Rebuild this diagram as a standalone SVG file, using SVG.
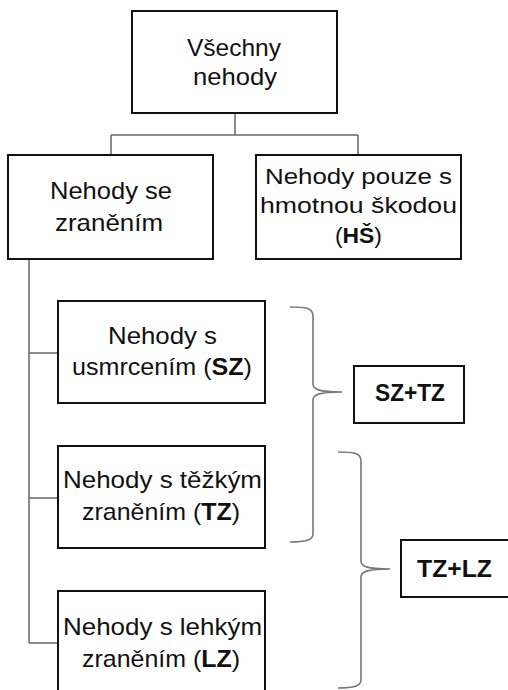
<svg xmlns="http://www.w3.org/2000/svg" width="508" height="690" viewBox="0 0 508 690">
<style>
.box{fill:#fff;stroke:#111;stroke-width:2}
.t{font-family:"Liberation Sans",Arial,sans-serif;font-size:24px;fill:#111}
.s{font-size:22px}
.b{font-weight:bold}
.con{fill:none;stroke:#666;stroke-width:1.5}
.brace{fill:none;stroke:#777;stroke-width:1.6}
</style>
<rect width="508" height="690" fill="#fff"/>
<g id="connectors">
<path class="con" d="M235,113V135M111,135H358M111,135V155M358,135V155"/>
<path class="con" d="M29,259V643M29,353H58M29,498H58M29,643H58"/>
<path class="brace" d="M290,307C306,307 313,308 313,316V384C313,389 318,392 342,392M313,400C313,395 318,392 342,392M313,400V534C313,540 306,542 290,542"/>
<path class="brace" d="M338,452C354,452 361,453 361,461V561C361,566 366,569 390,569M361,577C361,572 366,569 390,569M361,577V680C361,686 354,688 338,688"/>
</g>
<g id="n_all">
<rect class="box" x="132" y="11" width="205" height="102"/>
<text class="t" x="187" y="56" textLength="94" lengthAdjust="spacingAndGlyphs">Všechny</text>
<text class="t" x="193" y="85" textLength="84" lengthAdjust="spacingAndGlyphs">nehody</text>
</g>
<g id="n_zran">
<rect class="box" x="8" y="155" width="205" height="104"/>
<text class="t" x="50" y="199" textLength="122" lengthAdjust="spacingAndGlyphs">Nehody se</text>
<text class="t" x="55" y="231" textLength="108" lengthAdjust="spacingAndGlyphs">zraněním</text>
</g>
<g id="n_hs">
<rect class="box" x="256" y="155" width="205" height="104"/>
<text class="t s" x="265" y="184" textLength="187" lengthAdjust="spacingAndGlyphs">Nehody pouze s</text>
<text class="t s" x="260" y="213" textLength="197" lengthAdjust="spacingAndGlyphs">hmotnou škodou</text>
<text class="t s" x="335" y="243" textLength="47" lengthAdjust="spacingAndGlyphs">(<tspan class="b">HŠ</tspan>)</text>
</g>
<g id="n_sz">
<rect class="box" x="58" y="301" width="207" height="102"/>
<text class="t" x="108" y="344" textLength="109" lengthAdjust="spacingAndGlyphs">Nehody s</text>
<text class="t" x="72" y="375" textLength="180" lengthAdjust="spacingAndGlyphs">usmrcením (<tspan class="b">SZ</tspan>)</text>
</g>
<g id="n_tz">
<rect class="box" x="58" y="446" width="207" height="102"/>
<text class="t" x="63" y="488" textLength="199" lengthAdjust="spacingAndGlyphs">Nehody s těžkým</text>
<text class="t" x="82" y="520" textLength="158" lengthAdjust="spacingAndGlyphs">zraněním (<tspan class="b">TZ</tspan>)</text>
</g>
<g id="n_lz">
<rect class="box" x="58" y="591" width="207" height="104"/>
<text class="t" x="63" y="635" textLength="199" lengthAdjust="spacingAndGlyphs">Nehody s lehkým</text>
<text class="t" x="82" y="667" textLength="158" lengthAdjust="spacingAndGlyphs">zraněním (<tspan class="b">LZ</tspan>)</text>
</g>
<g id="n_sztz">
<rect class="box" x="354" y="366" width="110" height="57"/>
<text class="t b" x="375" y="401" textLength="70" lengthAdjust="spacingAndGlyphs">SZ+TZ</text>
</g>
<g id="n_tzlz">
<rect class="box" x="401" y="540" width="112" height="57"/>
<text class="t b" x="417" y="577" textLength="75" lengthAdjust="spacingAndGlyphs">TZ+LZ</text>
</g>
</svg>
